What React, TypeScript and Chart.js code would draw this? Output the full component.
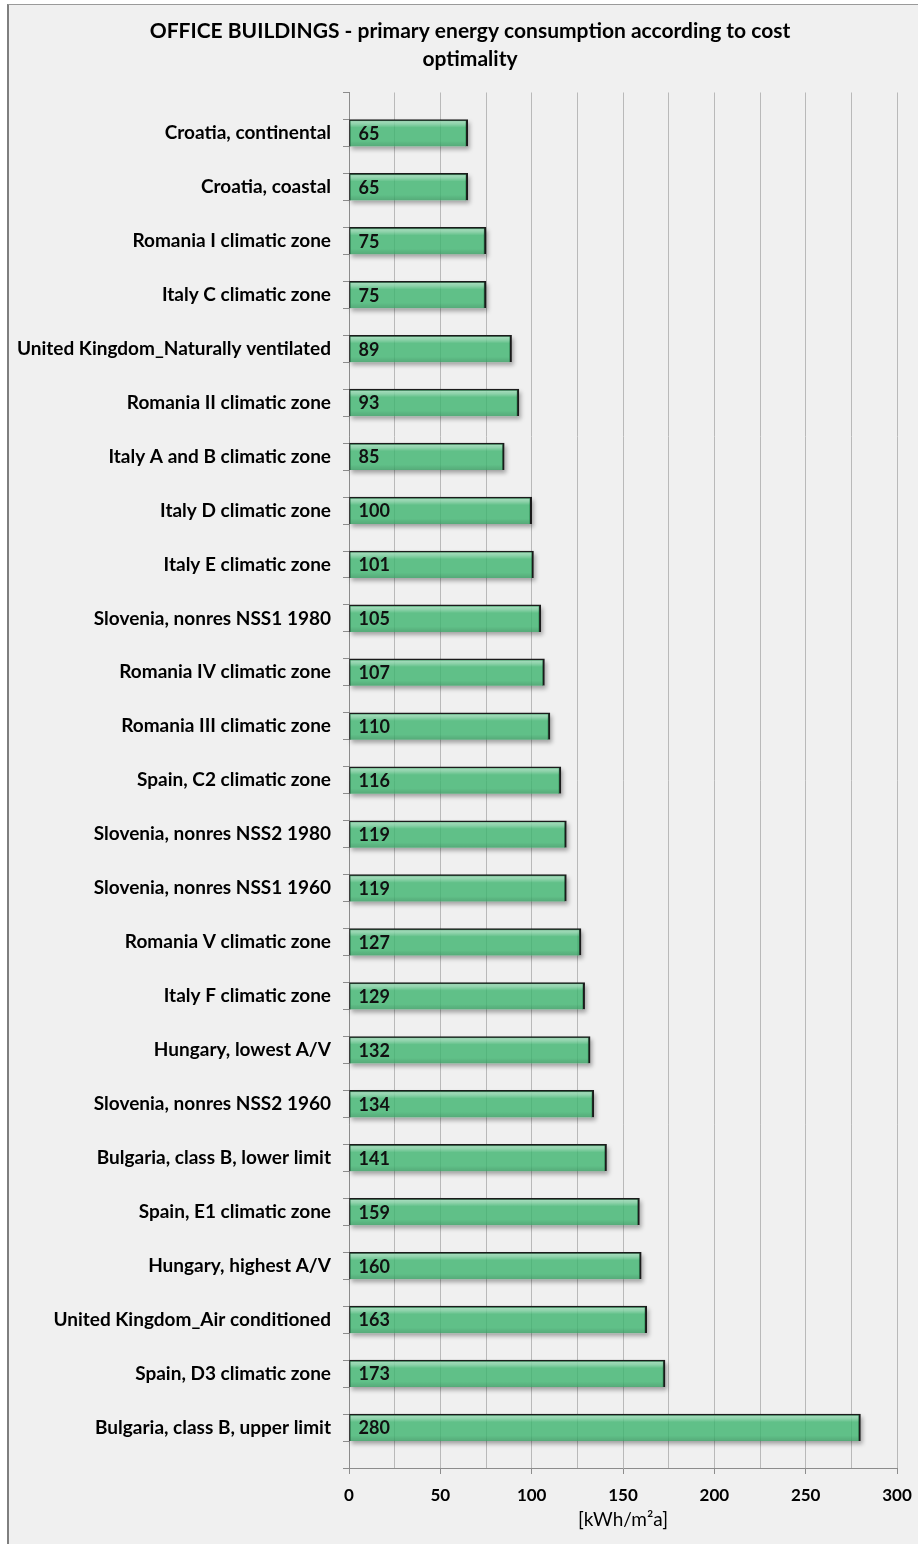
import React, { useEffect, useRef } from 'react';
import { Chart, registerables } from 'chart.js';

Chart.register(...registerables);

const titleLines = ['OFFICE BUILDINGS - primary energy consumption according to cost', 'optimality'];
const xAxisTitle = '[kWh/m²a]';

const categories = [
  'Croatia, continental',
  'Croatia, coastal',
  'Romania I climatic zone',
  'Italy C climatic zone',
  'United Kingdom_Naturally ventilated',
  'Romania II climatic zone',
  'Italy A and B climatic zone',
  'Italy D climatic zone',
  'Italy E climatic zone',
  'Slovenia, nonres NSS1 1980',
  'Romania IV climatic zone',
  'Romania III climatic zone',
  'Spain, C2 climatic zone',
  'Slovenia, nonres NSS2 1980',
  'Slovenia, nonres NSS1 1960',
  'Romania V climatic zone',
  'Italy F climatic zone',
  'Hungary, lowest A/V',
  'Slovenia, nonres NSS2 1960',
  'Bulgaria, class B, lower limit',
  'Spain, E1 climatic zone',
  'Hungary, highest A/V',
  'United Kingdom_Air conditioned',
  'Spain, D3 climatic zone',
  'Bulgaria, class B, upper limit',
];

const values = [65, 65, 75, 75, 89, 93, 85, 100, 101, 105, 107, 110, 116, 119, 119, 127, 129, 132, 134, 141, 159, 160, 163, 173, 280];

const xMin = 0;
const xMax = 300;
const xGridStep = 25;
const xLabelStep = 50;

// Interleave blank rows between the categories (as in the original sheet)
const rowLabels: string[] = [''];
const rowValues: (number | null)[] = [null];
categories.forEach((c, i) => {
  rowLabels.push(c, '');
  rowValues.push(values[i], null);
});

const FONT = 'Lato';

const barDecor = {
  id: 'barDecor',
  beforeDatasetsDraw(chart: any) {
    const ctx = chart.ctx as CanvasRenderingContext2D;
    const meta = chart.getDatasetMeta(0);
    meta.data.forEach((el: any, i: number) => {
      const v = chart.data.datasets[0].data[i];
      if (v == null) return;
      const { x, y, base, height } = el.getProps(['x', 'y', 'base', 'height'], true);
      const top = y - height / 2;
      ctx.save();
      ctx.beginPath();
      ctx.rect(0, 0, chart.width, chart.height);
      ctx.rect(base, top, x - base, height);
      ctx.clip('evenodd');
      ctx.filter = 'blur(2px)';
      ctx.fillStyle = 'rgba(0,0,0,0.32)';
      ctx.fillRect(base + 2, top + 3, x - base, height);
      ctx.restore();
    });
  },
  afterDatasetsDraw(chart: any) {
    const ctx = chart.ctx as CanvasRenderingContext2D;
    const meta = chart.getDatasetMeta(0);
    meta.data.forEach((el: any, i: number) => {
      const v = chart.data.datasets[0].data[i];
      if (v == null) return;
      const { x, y, base, height } = el.getProps(['x', 'y', 'base', 'height'], true);
      const top = y - height / 2;
      ctx.save();
      const g = ctx.createLinearGradient(0, top, 0, top + height);
      g.addColorStop(0, 'rgba(255,255,255,0.5)');
      g.addColorStop(0.16, 'rgba(255,255,255,0.3)');
      g.addColorStop(0.3, 'rgba(255,255,255,0)');
      g.addColorStop(0.8, 'rgba(0,0,0,0)');
      g.addColorStop(1, 'rgba(0,0,0,0.12)');
      ctx.fillStyle = g;
      ctx.fillRect(base + 1, top + 1.5, x - base - 3, height - 1.5);
      ctx.font = `bold 18px ${FONT}`;
      ctx.fillStyle = '#111';
      ctx.textAlign = 'left';
      ctx.textBaseline = 'middle';
      ctx.fillText(String(v), base + 9, y + 1);
      ctx.restore();
    });
  },
};

export default function App() {
  const ref = useRef<HTMLCanvasElement>(null);

  useEffect(() => {
    if (!ref.current) return;
    const chart = new Chart(ref.current, {
      type: 'bar',
      data: {
        labels: rowLabels,
        datasets: [
          {
            data: rowValues as any,
            backgroundColor: 'rgba(60,180,110,0.8)',
            borderColor: '#1b1b1b',
            borderWidth: { top: 1.5, right: 2, bottom: 0, left: 1 } as any,
            borderSkipped: false as any,
            barPercentage: 1,
            categoryPercentage: 1,
          },
        ],
      },
      options: {
        indexAxis: 'y',
        responsive: false,
        animation: false,
        events: [],
        layout: { padding: { top: 0, left: 0, right: 0, bottom: 33.4 } },
        plugins: {
          legend: { display: false },
          tooltip: { enabled: false },
          title: {
            display: true,
            text: titleLines,
            color: '#000',
            font: { family: FONT, size: 21, weight: 'bold', lineHeight: 28 / 21 },
            padding: { top: 12, bottom: 19.5 },
          },
        },
        scales: {
          x: {
            type: 'linear',
            min: xMin,
            max: xMax,
            afterFit: (s: any) => {
              s.height = 63.6;
            },
            ticks: {
              stepSize: xGridStep,
              padding: 11,
              color: '#000',
              font: { family: FONT, size: 17, weight: 'bold' },
              callback: (v: any) => (Number(v) % xLabelStep === 0 ? String(v) : ''),
            },
            grid: {
              color: '#b9b9b9',
              lineWidth: 1,
              tickLength: 6,
              tickColor: (c: any) => (c.tick && c.tick.value % xLabelStep === 0 ? '#8c8c8c' : 'rgba(0,0,0,0)'),
            },
            border: { display: true, color: '#8c8c8c', width: 1 },
            title: {
              display: true,
              text: xAxisTitle,
              color: '#000',
              font: { family: FONT, size: 19, weight: 'normal' },
              padding: { top: 0, bottom: 0 },
            },
          },
          y: {
            type: 'category',
            afterFit: (s: any) => {
              s.width = 340;
            },
            ticks: {
              autoSkip: false,
              padding: 12,
              color: '#000',
              font: { family: FONT, size: 19, weight: 'bold' },
            },
            grid: {
              offset: true,
              drawOnChartArea: false,
              drawTicks: true,
              tickLength: 6,
              color: '#8c8c8c',
            },
            border: { display: true, color: '#8c8c8c', width: 1 },
          },
          yRight: {
            type: 'category',
            position: 'right',
            afterFit: (s: any) => {
              s.width = 34;
            },
            ticks: { display: false },
            grid: { display: false },
            border: { display: false },
          },
        },
      },
      plugins: [barDecor],
    });
    return () => chart.destroy();
  }, []);

  return (
    <div
      style={{
        position: 'absolute',
        left: 7,
        top: 4,
        width: 911,
        height: 1540,
        boxSizing: 'border-box',
        overflow: 'hidden',
        background: '#f0f0f0',
        borderLeft: '2px solid #7f7f7f',
        borderTop: '1px solid #9a9a9a',
      }}
    >
      <canvas ref={ref} width={922} height={1560} style={{ display: 'block', width: 922, height: 1560 }} />
    </div>
  );
}
